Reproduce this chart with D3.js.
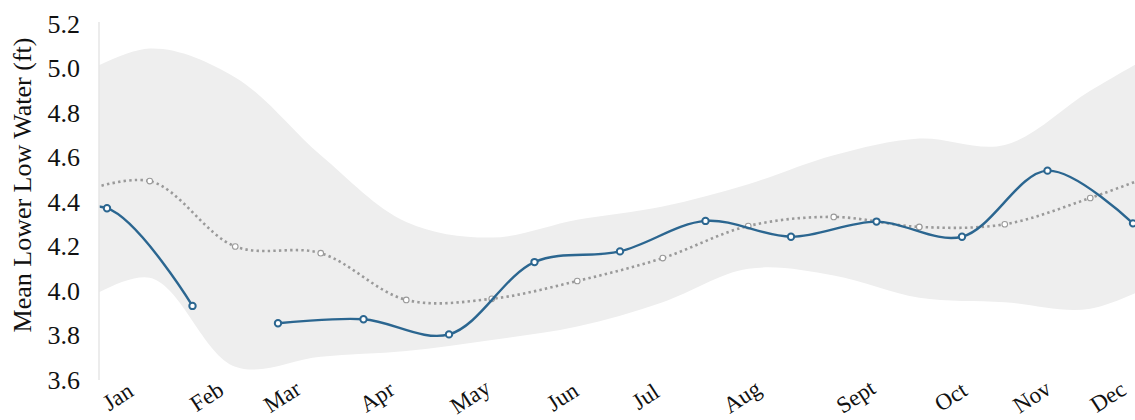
<!DOCTYPE html>
<html>
<head>
<meta charset="utf-8">
<script src="https://cdn.jsdelivr.net/npm/d3@7"></script>
<style>
  html, body { margin: 0; padding: 0; background: #fff; }
  svg { display: block; font-family: "Liberation Serif", "Times New Roman", serif; }
</style>
</head>
<body>
<svg id="chart" width="1135" height="420"></svg>
<script>
// Month labels and where they fall along the period axis (period units, 0 = first period)
const monthLabels = ["Jan", "Feb", "Mar", "Apr", "May", "Jun", "Jul", "Aug", "Sept", "Oct", "Nov", "Dec"];
const monthPos = [0.13, 1.17, 2.05, 3.16, 4.25, 5.33, 6.30, 7.43, 8.76, 9.87, 10.82, 11.71];

// Observed mean lower low water per period (index -1 .. 12); record breaks after index 1
const observedIdx = [-1, 0, 1, 2, 3, 4, 5, 6, 7, 8, 9, 10, 11, 12];
const observed = [4.30, 4.372, 3.933, 3.855, 3.873, 3.805, 4.130, 4.178, 4.315, 4.244, 4.312, 4.244, 4.541, 4.304];
const observedBreakAfter = 1;

// Long-term average and its range, at mid-period (index -0.5 .. 12.5)
const averageIdx = [-0.5, 0.5, 1.5, 2.5, 3.5, 4.5, 5.5, 6.5, 7.5, 8.5, 9.5, 10.5, 11.5, 12.5];
const average = [4.42, 4.494, 4.200, 4.170, 3.960, 3.965, 4.045, 4.148, 4.292, 4.333, 4.288, 4.300, 4.418, 4.56];
const rangeHigh = [4.93, 5.09, 4.96, 4.61, 4.31, 4.24, 4.32, 4.38, 4.48, 4.61, 4.685, 4.656, 4.90, 5.12];
const rangeLow = [3.90, 4.06, 3.66, 3.705, 3.73, 3.78, 3.84, 3.95, 4.10, 4.07, 3.97, 3.95, 3.92, 4.08];

const yTicks = [3.6, 3.8, 4.0, 4.2, 4.4, 4.6, 4.8, 5.0, 5.2];

const svg = d3.select("#chart");
const W = 1135, H = 420;
const plot = { left: 99, right: 1135, top: 22, bottom: 380 };

const x = d3.scaleLinear().domain([0, 12]).range([107, 1133]);
const y = d3.scaleLinear().domain([3.6, 5.2]).range([380, 24]);

svg.append("defs").append("clipPath").attr("id", "plotClip")
  .append("rect")
  .attr("x", plot.left).attr("y", 0)
  .attr("width", plot.right - plot.left).attr("height", H);

const g = svg.append("g").attr("clip-path", "url(#plotClip)");

const curve = d3.curveCatmullRom;

// Shaded range band
const band = averageIdx.map((i, k) => ({ i, hi: rangeHigh[k], lo: rangeLow[k] }));
g.append("path")
  .datum(band)
  .attr("fill", "#eeeeee")
  .attr("d", d3.area().curve(curve)
    .x(d => x(d.i)).y0(d => y(d.lo)).y1(d => y(d.hi)));

// Average (dotted)
const avg = averageIdx.map((i, k) => ({ i, v: average[k] }));
g.append("path")
  .datum(avg)
  .attr("fill", "none")
  .attr("stroke", "#9a9a9a")
  .attr("stroke-width", 2.6)
  .attr("stroke-dasharray", "2.4 3.2")
  .attr("d", d3.line().curve(curve).x(d => x(d.i)).y(d => y(d.v)));
g.selectAll("circle.avg")
  .data(avg)
  .join("circle")
  .attr("class", "avg")
  .attr("cx", d => x(d.i)).attr("cy", d => y(d.v))
  .attr("r", 2.8)
  .attr("fill", "#fff")
  .attr("stroke", "#9a9a9a")
  .attr("stroke-width", 1.1);

// Observed series, drawn as two runs around the missing stretch
const obs = observedIdx.map((i, k) => ({ i, v: observed[k] }));
const runs = [obs.filter(d => d.i <= observedBreakAfter), obs.filter(d => d.i > observedBreakAfter)];
const obsLine = d3.line().curve(curve).x(d => x(d.i)).y(d => y(d.v));
g.selectAll("path.obs")
  .data(runs)
  .join("path")
  .attr("class", "obs")
  .attr("fill", "none")
  .attr("stroke", "#2b6690")
  .attr("stroke-width", 2.4)
  .attr("d", obsLine);
g.selectAll("circle.obs")
  .data(obs)
  .join("circle")
  .attr("class", "obs")
  .attr("cx", d => x(d.i)).attr("cy", d => y(d.v))
  .attr("r", 3.2)
  .attr("fill", "#fff")
  .attr("stroke", "#2b6690")
  .attr("stroke-width", 2);

// Y axis
const yAxis = d3.axisLeft(y).tickValues(yTicks).tickFormat(d3.format(".1f"))
  .tickSize(0).tickPadding(19);
const ya = svg.append("g").attr("transform", `translate(${plot.left},0)`).call(yAxis);
ya.select(".domain").attr("stroke", "#e6e6e6").attr("stroke-width", 1.5)
  .attr("d", `M0,${plot.top}V${plot.bottom}`);
ya.selectAll("text")
  .attr("font-family", "Liberation Serif, serif")
  .attr("font-size", 26)
  .attr("fill", "#111");

// Month labels
svg.append("g").selectAll("text")
  .data(monthLabels)
  .join("text")
  .attr("transform", (d, k) => `translate(${x(monthPos[k])},397) rotate(-33)`)
  .attr("text-anchor", "middle")
  .attr("dy", "0.32em")
  .attr("font-size", 23)
  .attr("fill", "#111")
  .text(d => d);

// Y title
svg.append("text")
  .attr("transform", "translate(22,185) rotate(-90)")
  .attr("text-anchor", "middle")
  .attr("dy", "0.35em")
  .attr("font-size", 26)
  .attr("fill", "#111")
  .text("Mean Lower Low Water (ft)");
</script>
</body>
</html>
